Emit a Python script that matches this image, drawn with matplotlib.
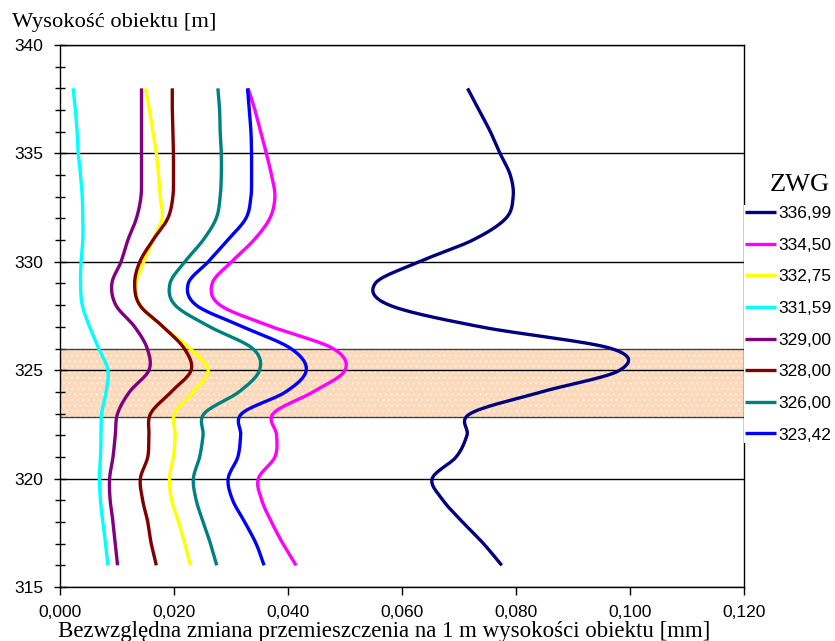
import numpy as np
import matplotlib
matplotlib.use("Agg")
import matplotlib.pyplot as plt
from matplotlib.ticker import MultipleLocator, FuncFormatter

# heights of the measurement points [m]
heights = np.arange(316, 339)

# ZWG series: absolute change of displacement per 1 m of height [mm]
zwg_labels = ["336,99", "334,50", "332,75", "331,59", "329,00", "328,00", "326,00", "323,42"]
zwg_colors = ["#000080", "#FF00FF", "#FFFF00", "#00FFFF", "#800080", "#800000", "#008080", "#0000FF"]

v_33699 = [0.0775, 0.0743, 0.0706, 0.0672, 0.0653, 0.0695, 0.0714, 0.0720, 0.0845, 0.0982, 0.0967, 0.0738,
           0.0578, 0.0553, 0.0630, 0.0724, 0.0782, 0.0795, 0.0790, 0.0772, 0.0755, 0.0735, 0.0715]
v_33450 = [0.0414, 0.0391, 0.0371, 0.0354, 0.0348, 0.0377, 0.0380, 0.0374, 0.0444, 0.0500, 0.0479, 0.0372,
           0.0281, 0.0267, 0.0301, 0.0340, 0.0368, 0.0377, 0.0371, 0.0362, 0.0352, 0.0342, 0.0330]
v_33275 = [0.0229, 0.0219, 0.0208, 0.0196, 0.0192, 0.0199, 0.0202, 0.0201, 0.0234, 0.0260, 0.0228, 0.0181,
           0.0140, 0.0134, 0.0147, 0.0163, 0.0179, 0.0176, 0.0173, 0.0169, 0.0163, 0.0157, 0.0150]
v_33159 = [0.0084, 0.0080, 0.0075, 0.0071, 0.0069, 0.0071, 0.0072, 0.0073, 0.0081, 0.0084, 0.0068, 0.0052,
           0.0039, 0.0036, 0.0037, 0.0040, 0.0040, 0.0039, 0.0036, 0.0032, 0.0030, 0.0027, 0.0023]
v_32900 = [0.0101, 0.0097, 0.0093, 0.0088, 0.0087, 0.0093, 0.0097, 0.0101, 0.0122, 0.0156, 0.0153, 0.0131,
           0.0098, 0.0091, 0.0107, 0.0119, 0.0134, 0.0142, 0.0143, 0.0143, 0.0143, 0.0143, 0.0143]
v_32800 = [0.0169, 0.0160, 0.0154, 0.0145, 0.0141, 0.0154, 0.0156, 0.0159, 0.0195, 0.0230, 0.0218, 0.0181,
           0.0140, 0.0131, 0.0140, 0.0163, 0.0189, 0.0198, 0.0199, 0.0199, 0.0198, 0.0197, 0.0197]
v_32600 = [0.0275, 0.0264, 0.0251, 0.0239, 0.0234, 0.0245, 0.0251, 0.0253, 0.0314, 0.0350, 0.0338, 0.0263,
           0.0202, 0.0193, 0.0219, 0.0251, 0.0274, 0.0281, 0.0283, 0.0283, 0.0281, 0.0280, 0.0277]
v_32342 = [0.0358, 0.0344, 0.0324, 0.0303, 0.0295, 0.0312, 0.0317, 0.0319, 0.0396, 0.0432, 0.0405, 0.0321,
           0.0239, 0.0225, 0.0260, 0.0294, 0.0326, 0.0335, 0.0336, 0.0336, 0.0335, 0.0332, 0.0329]

series = [v_33699, v_33450, v_33275, v_33159, v_32900, v_32800, v_32600, v_32342]

# highlighted height range
band_low, band_high = 322.85, 326.0


def smooth(h, v, n=16):
    # cubic Hermite (Catmull-Rom) through the points, like a smoothed Excel line
    h = np.asarray(h, float)
    v = np.asarray(v, float)
    m = np.empty_like(v)
    m[1:-1] = (v[2:] - v[:-2]) / 2
    m[0] = v[1] - v[0]
    m[-1] = v[-1] - v[-2]
    hs, vs = [], []
    t = np.linspace(0, 1, n, endpoint=False)
    for i in range(len(v) - 1):
        h00 = 2 * t**3 - 3 * t**2 + 1
        h10 = t**3 - 2 * t**2 + t
        h01 = -2 * t**3 + 3 * t**2
        h11 = t**3 - t**2
        vs.append(h00 * v[i] + h10 * m[i] + h01 * v[i + 1] + h11 * m[i + 1])
        hs.append(h[i] + t * (h[i + 1] - h[i]))
    hs.append([h[-1]])
    vs.append([v[-1]])
    return np.concatenate(hs), np.concatenate(vs)


plt.rcParams["hatch.linewidth"] = 0.8
plt.rcParams["hatch.color"] = "#FFF2E4"

fig = plt.figure(figsize=(8.35, 6.41), dpi=100)
ax = fig.add_axes([60 / 835, 1 - 587 / 641, 684 / 835, 542 / 641])

ax.axhspan(band_low, band_high, facecolor="#FCD9BB", edgecolor="#FFF2E4", lw=0, hatch="...", zorder=0)
ax.axhline(band_low, color="#404040", lw=1, zorder=1)
ax.axhline(band_high, color="#404040", lw=1, zorder=1)

for vals, col, lab in zip(series, zwg_colors, zwg_labels):
    hh, vv = smooth(heights, vals)
    ax.plot(vv, hh, color=col, lw=2.4, label=lab, solid_capstyle="butt", zorder=3)

ax.set_xlim(0, 0.12)
ax.set_ylim(315, 340)
ax.xaxis.set_major_locator(MultipleLocator(0.02))
ax.yaxis.set_major_locator(MultipleLocator(5))
ax.yaxis.set_minor_locator(MultipleLocator(1))
ax.xaxis.set_major_formatter(FuncFormatter(lambda x, p: f"{x:.3f}".replace(".", ",")))
ax.yaxis.set_major_formatter(FuncFormatter(lambda y, p: f"{y:.0f}"))

ax.grid(axis="y", which="major", color="black", lw=1, zorder=1)
ax.set_axisbelow(True)
for s in ax.spines.values():
    s.set_color("black")
    s.set_linewidth(1)

ax.tick_params(axis="y", which="major", direction="inout", length=8, width=1, pad=8,
               labelsize=12.5, labelfontfamily="Liberation Sans")
ax.tick_params(axis="y", which="minor", direction="inout", length=7, width=1)
ax.tick_params(axis="x", which="major", direction="out", length=6, width=1, pad=7,
               labelsize=12.5, labelfontfamily="Liberation Sans")

fig.text(12 / 835, 1 - 22 / 641, "Wysokość obiektu [m]", family="Liberation Serif",
         fontsize=16.2, ha="left", va="center")
fig.text(58 / 835, 1 - 632 / 641, "Bezwzględna zmiana przemieszczenia na 1 m wysokości obiektu [mm]",
         family="Liberation Serif", fontsize=16.5, ha="left", va="center")
fig.text(800 / 835, 1 - 185 / 641, "ZWG", family="Liberation Serif", fontsize=19,
         ha="center", va="center")

leg = ax.legend(loc="upper left", bbox_to_anchor=(744 / 835, 1 - 205 / 641),
                bbox_transform=fig.transFigure, frameon=True, fancybox=False,
                facecolor="white", edgecolor="none", framealpha=1,
                prop={"family": "Liberation Sans", "size": 12.5},
                handlelength=1.8, handletextpad=0.15, labelspacing=0.95,
                borderpad=0.05, borderaxespad=0)
for line in leg.get_lines():
    line.set_linewidth(2.4)

fig.savefig("out.png", dpi=100)
